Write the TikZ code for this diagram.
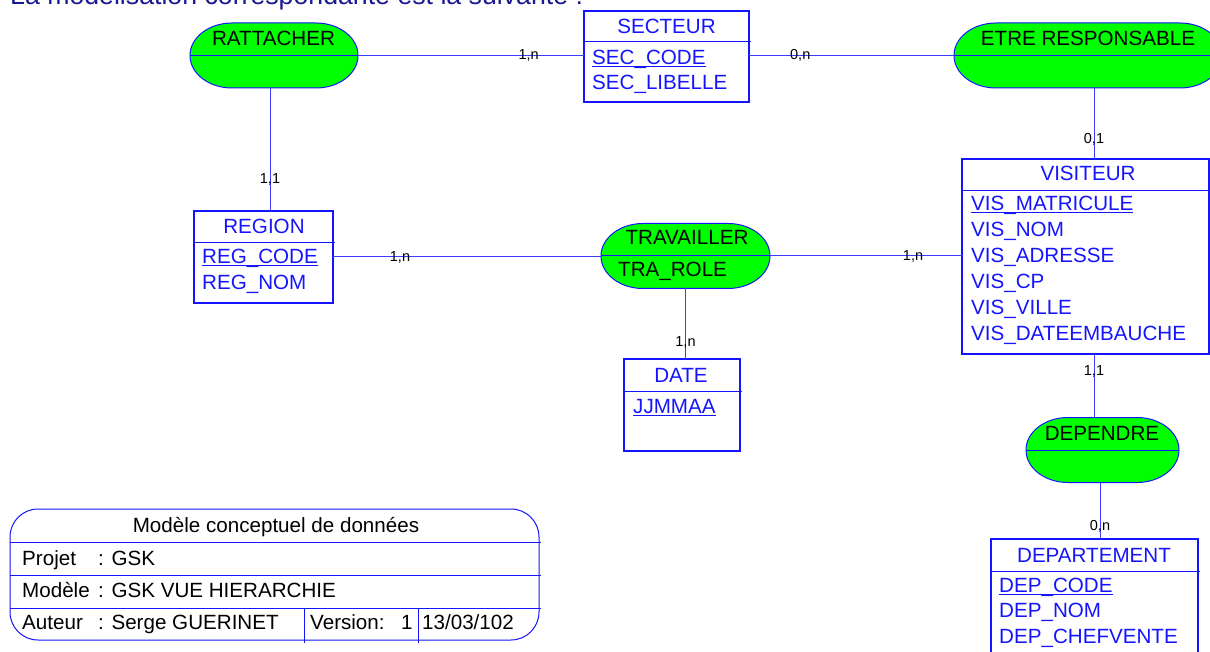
\documentclass[tikz,border=0pt]{standalone}
\usepackage{fontspec}
\setmainfont{Liberation Sans}

\definecolor{mcdblue}{RGB}{20,20,255}
\definecolor{linkblue}{RGB}{60,60,255}
\definecolor{mcdgreen}{RGB}{0,255,0}
\definecolor{phraseblue}{RGB}{25,25,145}

\newcommand\keyattr[1]{\setbox0=\hbox{#1}\rlap{\rule[-2.8pt]{\wd0}{1.2pt}}\box0}
\newcommand\assocpath[1]{%
  \filldraw[draw=mcdblue, fill=mcdgreen, line width=1pt]
    ([xshift=42pt]#1.north west) arc[start angle=90, end angle=270, x radius=42pt, y radius=32.5pt]
    -- ([xshift=-42pt]#1.south east) arc[start angle=-90, end angle=90, x radius=42pt, y radius=32.5pt]
    -- cycle;
  \draw[draw=mcdblue, line width=1pt] (#1.west) -- (#1.east);}

\begin{document}
\begin{tikzpicture}[x=1pt,y=-1pt,
  entity/.style={draw=mcdblue, line width=1.2pt, inner sep=0pt, outer sep=0pt},
  assoc/.style={inner sep=0pt, outer sep=0pt, minimum height=65pt},
  head/.style={text=mcdblue, font=\fontsize{20.6}{24}\selectfont, inner sep=0pt, anchor=base},
  attr/.style={text=mcdblue, font=\fontsize{20.6}{24}\selectfont, inner sep=0pt, anchor=base west},
  verb/.style={text=black, font=\fontsize{20.6}{24}\selectfont, inner sep=0pt, anchor=base},
  card/.style={text=black, font=\fontsize{14.5}{17}\selectfont, inner sep=0pt},
  link/.style={draw=linkblue, line width=1pt},
  sep/.style={draw=mcdblue, line width=1pt},
  cart/.style={text=black, font=\fontsize{20.6}{24}\selectfont, inner sep=0pt, anchor=base west}]

\useasboundingbox (0,0) rectangle (1210,652);

\node[anchor=base west, inner sep=0pt, text=phraseblue, font=\fontsize{26.7}{32}\selectfont] (phrase) at (10,5) {La modélisation correspondante est la suivante :};

\node[entity, minimum width=165pt, minimum height=91pt] (secteur) at (666.5,56.5) {};
\draw[sep] ([yshift=-31pt]secteur.north west) -- ([yshift=-31pt,xshift=2pt]secteur.north east);
\node[head] (secteurT) at (666.5,33.5) {SECTEUR};
\node[attr] (secteur1) at (592,64.5) {\keyattr{SEC\_CODE}};
\node[attr] (secteur2) at (592,89.5) {SEC\_LIBELLE};

\node[entity, minimum width=139pt, minimum height=92pt] (region) at (263.5,257) {};
\draw[sep] ([yshift=-32pt]region.north west) -- ([yshift=-32pt,xshift=2pt]region.north east);
\node[head] (regionT) at (264,233.4) {REGION};
\node[attr] (region1) at (202,263.4) {\keyattr{REG\_CODE}};
\node[attr] (region2) at (202,289.4) {REG\_NOM};

\node[entity, minimum width=116pt, minimum height=92pt] (date) at (682,405) {};
\draw[sep] ([yshift=-32pt]date.north west) -- ([yshift=-32pt,xshift=2pt]date.north east);
\node[head] (dateT) at (681,382.4) {DATE};
\node[attr] (date1) at (633,413.4) {\keyattr{JJMMAA}};

\node[entity, minimum width=247pt, minimum height=195pt] (visiteur) at (1085.5,256.5) {};
\draw[sep] ([yshift=-32pt]visiteur.north west) -- ([yshift=-32pt]visiteur.north east);
\node[head] (visiteurT) at (1088,180.4) {VISITEUR};
\node[attr] (visiteur1) at (971,210.4) {\keyattr{VIS\_MATRICULE}};
\node[attr] (visiteur2) at (971,236.4) {VIS\_NOM};
\node[attr] (visiteur3) at (971,262.4) {VIS\_ADRESSE};
\node[attr] (visiteur4) at (971,288.4) {VIS\_CP};
\node[attr] (visiteur5) at (971,314.4) {VIS\_VILLE};
\node[attr] (visiteur6) at (971,340.4) {VIS\_DATEEMBAUCHE};

\node[entity, minimum width=207pt, minimum height=125pt] (departement) at (1094.5,601.5) {};
\draw[sep] ([yshift=-32pt]departement.north west) -- ([yshift=-32pt,xshift=2pt]departement.north east);
\node[head] (departementT) at (1094,562.4) {DEPARTEMENT};
\node[attr] (departement1) at (999,592.4) {\keyattr{DEP\_CODE}};
\node[attr] (departement2) at (999,617.4) {DEP\_NOM};
\node[attr] (departement3) at (999,643.4) {DEP\_CHEFVENTE};

\node[assoc, minimum width=168pt] (rattacher) at (274,55.5) {};
\assocpath{rattacher}
\node[verb] (rattacherT) at (273.5,45.5) {RATTACHER};

\node[assoc, minimum width=268pt] (responsable) at (1088,55.5) {};
\assocpath{responsable}
\node[verb] (responsableT) at (1088,45.5) {ETRE RESPONSABLE};

\node[assoc, minimum width=169pt] (travailler) at (685.5,256) {};
\assocpath{travailler}
\node[verb] (travaillerT) at (687,245) {TRAVAILLER};
\node[verb, anchor=base west] (travailler1) at (618,277) {TRA\_ROLE};

\node[assoc, minimum width=153pt] (dependre) at (1102.5,450) {};
\assocpath{dependre}
\node[verb] (dependreT) at (1102,440) {DEPENDRE};

\coordinate (rattfoot) at (270,88);
\coordinate (respfoot) at (1094,88);
\coordinate (visfoot) at (1094,354);
\coordinate (depfoot) at (1100,483);

\draw[link] (rattacher.east) -- node[card, pos=0.755] {1,n} (rattacher.east -| secteur.west);
\draw[link] (responsable.west -| secteur.east) -- node[card, pos=0.25] {0,n} (responsable.west);
\draw[link] (rattfoot) -- node[card, pos=0.744] {1,1} (rattfoot |- region.north);
\draw[link] (region.east) -- node[card, pos=0.25] {1,n} (region.east -| travailler.west);
\draw[link] (travailler.east) -- node[card, pos=0.745] {1,n} (travailler.east -| visiteur.west);
\draw[link] (travailler.south) -- node[card, pos=0.77] {1,n} (travailler.south |- date.north);
\draw[link] (respfoot) -- node[card, pos=0.72] {0,1} (respfoot |- visiteur.north);
\draw[link] (visfoot) -- node[card, pos=0.27] {1,1} (visfoot |- dependre.north);
\draw[link] (depfoot) -- node[card, pos=0.77] {0,n} (depfoot |- departement.north);

\node[draw=mcdblue, line width=1pt, rounded corners=28pt, minimum width=529pt, minimum height=131pt, inner sep=0pt, outer sep=0pt] (cartouche) at (274.5,574.5) {};
\draw[sep] ([yshift=-33pt]cartouche.north west) -- ([yshift=-33pt,xshift=2pt]cartouche.north east);
\draw[sep] ([yshift=-66pt]cartouche.north west) -- ([yshift=-66pt,xshift=2pt]cartouche.north east);
\draw[sep] ([yshift=-99pt]cartouche.north west) -- ([yshift=-99pt,xshift=2pt]cartouche.north east);
\draw[sep] ([xshift=294pt,yshift=-99pt]cartouche.north west) -- ([xshift=294pt,yshift=-3pt]cartouche.south west);
\draw[sep] ([xshift=408pt,yshift=-99pt]cartouche.north west) -- ([xshift=408pt,yshift=-3pt]cartouche.south west);
\node[cart, anchor=base] (cartoucheT) at (276,532) {Modèle conceptuel de données};
\node[cart] (projet) at (22,565) {Projet};
\node[cart] (projetV) at (98,565) {: GSK};
\node[cart] (modele) at (22,597) {Modèle};
\node[cart] (modeleV) at (98,597) {: GSK VUE HIERARCHIE};
\node[cart] (auteur) at (22,629) {Auteur};
\node[cart] (auteurV) at (98,629) {: Serge GUERINET};
\node[cart] (version) at (310,629) {Version:};
\node[cart] (versionV) at (401,629) {1};
\node[cart] (datemodif) at (422,629) {13/03/102};
\end{tikzpicture}
\end{document}
